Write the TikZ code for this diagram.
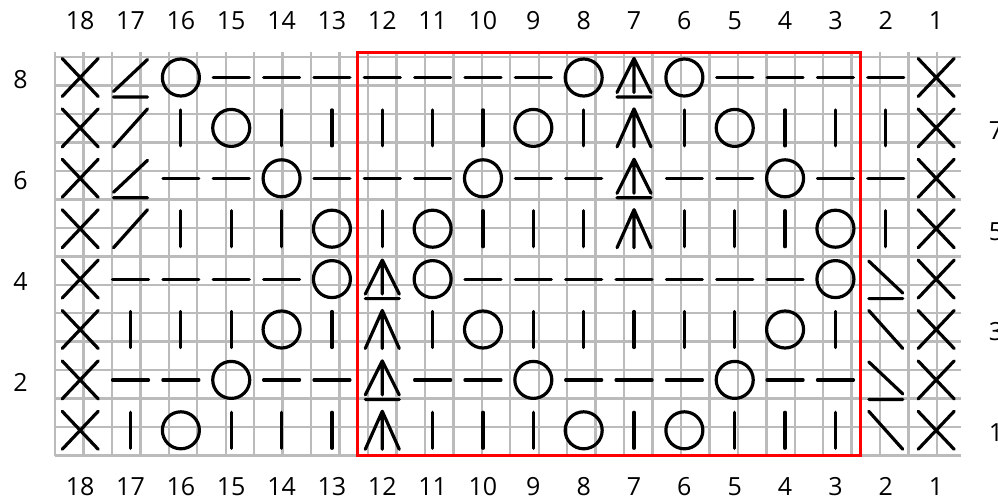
\documentclass[tikz,border=0pt]{standalone}
\usepackage{fontspec}
\setmainfont{Open Sans}
\usepackage{xcolor}
\usepackage{tikz}

\definecolor{gridgray}{RGB}{187,187,187}

\tikzset{
  symline/.style={line width=3.2pt, line cap=round, line join=round},
  gridline/.style={gridgray, line width=2.4pt},
  pics/st-k/.style={code={\draw[symline] (0,-18pt) -- (0,18pt);}},
  pics/st-p/.style={code={\draw[symline] (-18pt,0) -- (18pt,0);}},
  pics/st-o/.style={code={\draw[symline] (0,0) circle[radius=18.5pt];}},
  pics/st-x/.style={code={\draw[symline] (-18pt,-19pt) -- (18pt,19pt) (-18pt,19pt) -- (18pt,-19pt);}},
  pics/st-r/.style={code={\draw[symline] (-17pt,-19pt) -- (17pt,19pt);}},
  pics/st-l/.style={code={\draw[symline] (-17pt,19pt) -- (17pt,-19pt);}},
  pics/st-R/.style={code={\draw[symline] (-17pt,-14pt) -- (17pt,18pt) (-17pt,-19.5pt) -- (17pt,-19.5pt);}},
  pics/st-L/.style={code={\draw[symline] (-17pt,18pt) -- (17pt,-14pt) (-17pt,-19.5pt) -- (17pt,-19.5pt);}},
  pics/st-c/.style={code={\draw[symline] (-17pt,-19pt) -- (0,19pt) -- (17pt,-19pt) (0,19pt) -- (0,-19pt);}},
  pics/st-C/.style={code={\draw[symline] (-17pt,-15pt) -- (0,19pt) -- (17pt,-15pt) (0,19pt) -- (0,-15pt) (-17pt,-19.5pt) -- (17pt,-19.5pt);}}
}

\begin{document}
\begin{tikzpicture}[x=50.35pt, y=50.4pt, font=\fontsize{25}{30}\selectfont]
\useasboundingbox (-1.0924,-0.8631) rectangle (18.7289,9.0377);

\draw[gridline] (0,0) grid (18,8);
\draw[red, line width=3pt] (6,0) rectangle (16,8);

% stitches, columns 18 down to 1
\foreach \r/\cells in {
  1/{x,k,o,k,k,k,c,k,k,k,o,k,o,k,k,k,l,x},
  2/{x,p,p,o,p,p,C,p,p,o,p,p,p,o,p,p,L,x},
  3/{x,k,k,k,o,k,c,k,o,k,k,k,k,k,o,k,l,x},
  4/{x,p,p,p,p,o,C,o,p,p,p,p,p,p,p,o,L,x},
  5/{x,r,k,k,k,o,k,o,k,k,k,c,k,k,k,o,k,x},
  6/{x,R,p,p,o,p,p,p,o,p,p,C,p,p,o,p,p,x},
  7/{x,r,k,o,k,k,k,k,k,o,k,c,k,o,k,k,k,x},
  8/{x,R,o,p,p,p,p,p,p,p,o,C,o,p,p,p,p,x}}{
  \foreach \s [count=\i] in \cells
    \pic at (\i-0.5,\r-0.5) {st-\s};
}

\foreach \c in {1,...,18} {
  \node[inner sep=1pt] (top\c) at (18.5-\c,8.625) {\c};
  \node[inner sep=1pt] (bot\c) at (18.5-\c,-0.615) {\c};
}
\foreach \r in {2,4,6,8} \node (row\r) at (-0.685,\r-0.55) {\r};
\foreach \r in {1,3,5,7} \node (row\r) at (18.69,\r-0.55) {\r};
\end{tikzpicture}
\end{document}
